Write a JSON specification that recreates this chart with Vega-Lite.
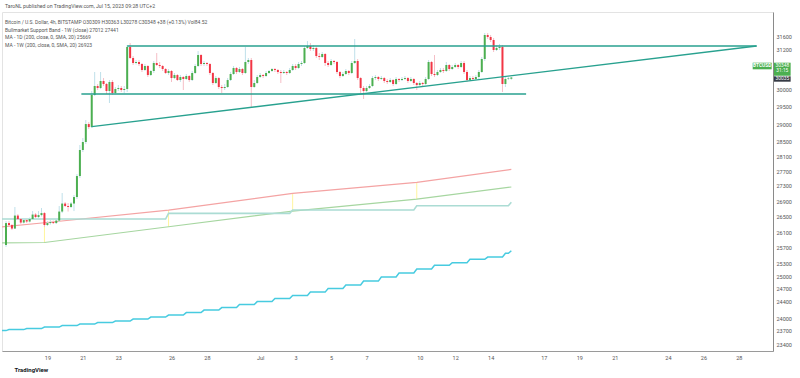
{
"$schema":"https://vega.github.io/schema/vega-lite/v6.json",
"width":771,"height":339,
"autosize":{"type":"none"},
"padding":{"left":2,"top":12,"right":27,"bottom":27},
"background":"#ffffff",
"title":{"text":"TaroNL published on TradingView.com, Jul 15, 2023 09:28 UTC+2","subtitle":["Bitcoin / U.S. Dollar, 4h, BITSTAMP  O30309 H30363 L30278 C30348 +38 (+0.13%)  Vol84.52","Bullmarket Support Band - 1W (close)  27012  27441","MA - 1D (200, close, 0, SMA, 20)  25669","MA - 1W (200, close, 0, SMA, 20)  26923"],"anchor":"start","frame":"group","orient":"top","offset":-36,"dx":3,"font":"Roboto","fontSize":5.2,"fontWeight":"normal","color":"#555555","subtitleFont":"Roboto","subtitleFontSize":5,"subtitleColor":"#555555","subtitleLineHeight":7.6,"subtitlePadding":11},
"config":{"view":{"stroke":"#e3e3e3"},"axis":{"grid":false,"ticks":false,"labelFont":"Roboto","labelFontSize":5.5,"labelColor":"#555555","titleFont":"Roboto"}},
"datasets":{
"candles":[
{"t":"2023-06-16T16:00Z","o":25772,"h":26381,"l":25722,"c":26330},
{"t":"2023-06-16T20:00Z","o":26330,"h":26381,"l":26253,"c":26279},
{"t":"2023-06-17T00:00Z","o":26279,"h":26305,"l":26151,"c":26189},
{"t":"2023-06-17T04:00Z","o":26189,"h":26745,"l":26177,"c":26523},
{"t":"2023-06-17T08:00Z","o":26523,"h":26562,"l":26407,"c":26433},
{"t":"2023-06-17T12:00Z","o":26433,"h":26459,"l":26305,"c":26343},
{"t":"2023-06-17T16:00Z","o":26343,"h":26459,"l":26317,"c":26407},
{"t":"2023-06-17T20:00Z","o":26407,"h":26433,"l":26330,"c":26369},
{"t":"2023-06-18T00:00Z","o":26369,"h":26472,"l":26343,"c":26433},
{"t":"2023-06-18T04:00Z","o":26433,"h":26640,"l":26407,"c":26549},
{"t":"2023-06-18T08:00Z","o":26549,"h":26588,"l":26459,"c":26485},
{"t":"2023-06-18T12:00Z","o":26485,"h":26640,"l":26459,"c":26536},
{"t":"2023-06-18T16:00Z","o":26536,"h":26719,"l":26498,"c":26588},
{"t":"2023-06-18T20:00Z","o":26588,"h":26614,"l":26228,"c":26279},
{"t":"2023-06-19T00:00Z","o":26279,"h":26381,"l":26253,"c":26330},
{"t":"2023-06-19T04:00Z","o":26330,"h":26407,"l":26292,"c":26356},
{"t":"2023-06-19T08:00Z","o":26356,"h":26394,"l":26305,"c":26330},
{"t":"2023-06-19T12:00Z","o":26330,"h":26459,"l":26305,"c":26394},
{"t":"2023-06-19T16:00Z","o":26394,"h":26771,"l":26356,"c":26627},
{"t":"2023-06-19T20:00Z","o":26627,"h":27113,"l":26588,"c":26836},
{"t":"2023-06-20T00:00Z","o":26836,"h":26876,"l":26745,"c":26771},
{"t":"2023-06-20T04:00Z","o":26771,"h":26850,"l":26627,"c":26745},
{"t":"2023-06-20T08:00Z","o":26745,"h":26876,"l":26719,"c":26836},
{"t":"2023-06-20T12:00Z","o":26836,"h":27060,"l":26640,"c":27007},
{"t":"2023-06-20T16:00Z","o":27007,"h":27620,"l":26954,"c":27566},
{"t":"2023-06-20T20:00Z","o":27566,"h":28413,"l":27513,"c":28275},
{"t":"2023-06-21T00:00Z","o":28275,"h":28608,"l":28220,"c":28496},
{"t":"2023-06-21T04:00Z","o":28496,"h":29114,"l":28441,"c":29000},
{"t":"2023-06-21T08:00Z","o":29000,"h":29057,"l":28859,"c":28915},
{"t":"2023-06-21T12:00Z","o":28915,"h":29950,"l":28887,"c":29834},
{"t":"2023-06-21T16:00Z","o":29834,"h":30510,"l":29804,"c":30096},
{"t":"2023-06-21T20:00Z","o":30096,"h":30155,"l":29979,"c":30038},
{"t":"2023-06-22T00:00Z","o":30038,"h":30510,"l":30008,"c":30243},
{"t":"2023-06-22T04:00Z","o":30243,"h":30331,"l":30096,"c":30155},
{"t":"2023-06-22T08:00Z","o":30155,"h":30184,"l":29863,"c":29950},
{"t":"2023-06-22T12:00Z","o":29950,"h":30272,"l":29601,"c":30214},
{"t":"2023-06-22T16:00Z","o":30214,"h":30272,"l":29834,"c":29892},
{"t":"2023-06-22T20:00Z","o":29892,"h":30067,"l":29863,"c":30008},
{"t":"2023-06-23T00:00Z","o":30008,"h":30125,"l":29950,"c":30038},
{"t":"2023-06-23T04:00Z","o":30038,"h":30096,"l":29921,"c":29979},
{"t":"2023-06-23T08:00Z","o":29979,"h":30096,"l":29892,"c":30008},
{"t":"2023-06-23T12:00Z","o":30008,"h":31324,"l":29921,"c":31263},
{"t":"2023-06-23T16:00Z","o":31263,"h":31385,"l":30899,"c":30929},
{"t":"2023-06-23T20:00Z","o":30929,"h":30989,"l":30719,"c":30779},
{"t":"2023-06-24T00:00Z","o":30779,"h":30869,"l":30734,"c":30809},
{"t":"2023-06-24T04:00Z","o":30809,"h":30869,"l":30689,"c":30749},
{"t":"2023-06-24T08:00Z","o":30749,"h":30779,"l":30510,"c":30569},
{"t":"2023-06-24T12:00Z","o":30569,"h":30749,"l":30540,"c":30689},
{"t":"2023-06-24T16:00Z","o":30689,"h":30719,"l":30361,"c":30420},
{"t":"2023-06-24T20:00Z","o":30420,"h":30569,"l":30391,"c":30540},
{"t":"2023-06-25T00:00Z","o":30540,"h":30839,"l":30480,"c":30779},
{"t":"2023-06-25T04:00Z","o":30779,"h":31080,"l":30689,"c":30719},
{"t":"2023-06-25T08:00Z","o":30719,"h":30809,"l":30629,"c":30689},
{"t":"2023-06-25T12:00Z","o":30689,"h":30719,"l":30540,"c":30599},
{"t":"2023-06-25T16:00Z","o":30599,"h":30629,"l":30450,"c":30480},
{"t":"2023-06-25T20:00Z","o":30480,"h":30599,"l":30420,"c":30540},
{"t":"2023-06-26T00:00Z","o":30540,"h":30569,"l":30214,"c":30331},
{"t":"2023-06-26T04:00Z","o":30331,"h":30480,"l":30302,"c":30420},
{"t":"2023-06-26T08:00Z","o":30420,"h":30450,"l":30243,"c":30272},
{"t":"2023-06-26T12:00Z","o":30272,"h":30420,"l":30214,"c":30361},
{"t":"2023-06-26T16:00Z","o":30361,"h":30391,"l":29979,"c":30302},
{"t":"2023-06-26T20:00Z","o":30302,"h":30450,"l":30272,"c":30391},
{"t":"2023-06-27T00:00Z","o":30391,"h":30420,"l":30214,"c":30272},
{"t":"2023-06-27T04:00Z","o":30272,"h":30540,"l":30243,"c":30480},
{"t":"2023-06-27T08:00Z","o":30480,"h":30749,"l":30450,"c":30689},
{"t":"2023-06-27T12:00Z","o":30689,"h":31141,"l":30659,"c":31020},
{"t":"2023-06-27T16:00Z","o":31020,"h":31050,"l":30689,"c":30749},
{"t":"2023-06-27T20:00Z","o":30749,"h":30839,"l":30689,"c":30779},
{"t":"2023-06-28T00:00Z","o":30779,"h":30809,"l":30689,"c":30749},
{"t":"2023-06-28T04:00Z","o":30749,"h":30779,"l":30420,"c":30480},
{"t":"2023-06-28T08:00Z","o":30480,"h":30510,"l":30125,"c":30184},
{"t":"2023-06-28T12:00Z","o":30184,"h":30391,"l":30155,"c":30331},
{"t":"2023-06-28T16:00Z","o":30331,"h":30361,"l":30008,"c":30067},
{"t":"2023-06-28T20:00Z","o":30067,"h":30125,"l":29892,"c":30038},
{"t":"2023-06-29T00:00Z","o":30038,"h":30155,"l":29979,"c":30067},
{"t":"2023-06-29T04:00Z","o":30067,"h":30331,"l":30038,"c":30272},
{"t":"2023-06-29T08:00Z","o":30272,"h":30510,"l":30243,"c":30450},
{"t":"2023-06-29T12:00Z","o":30450,"h":30689,"l":30420,"c":30629},
{"t":"2023-06-29T16:00Z","o":30629,"h":30659,"l":30450,"c":30510},
{"t":"2023-06-29T20:00Z","o":30510,"h":30659,"l":30480,"c":30599},
{"t":"2023-06-30T00:00Z","o":30599,"h":30629,"l":30420,"c":30480},
{"t":"2023-06-30T04:00Z","o":30480,"h":31263,"l":30450,"c":30809},
{"t":"2023-06-30T08:00Z","o":30809,"h":30929,"l":30749,"c":30869},
{"t":"2023-06-30T12:00Z","o":30869,"h":30929,"l":29486,"c":30067},
{"t":"2023-06-30T16:00Z","o":30067,"h":30272,"l":30038,"c":30184},
{"t":"2023-06-30T20:00Z","o":30184,"h":30420,"l":30155,"c":30361},
{"t":"2023-07-01T00:00Z","o":30361,"h":30480,"l":30331,"c":30420},
{"t":"2023-07-01T04:00Z","o":30420,"h":30450,"l":30331,"c":30391},
{"t":"2023-07-01T08:00Z","o":30391,"h":30540,"l":30361,"c":30480},
{"t":"2023-07-01T12:00Z","o":30480,"h":30569,"l":30450,"c":30540},
{"t":"2023-07-01T16:00Z","o":30540,"h":30629,"l":30510,"c":30599},
{"t":"2023-07-01T20:00Z","o":30599,"h":30629,"l":30510,"c":30569},
{"t":"2023-07-02T00:00Z","o":30569,"h":30599,"l":30450,"c":30510},
{"t":"2023-07-02T04:00Z","o":30510,"h":30569,"l":30184,"c":30480},
{"t":"2023-07-02T08:00Z","o":30480,"h":30569,"l":30450,"c":30510},
{"t":"2023-07-02T12:00Z","o":30510,"h":30540,"l":30420,"c":30480},
{"t":"2023-07-02T16:00Z","o":30480,"h":30629,"l":30450,"c":30569},
{"t":"2023-07-02T20:00Z","o":30569,"h":30749,"l":30540,"c":30689},
{"t":"2023-07-03T00:00Z","o":30689,"h":30749,"l":30569,"c":30629},
{"t":"2023-07-03T04:00Z","o":30629,"h":30809,"l":30599,"c":30749},
{"t":"2023-07-03T08:00Z","o":30749,"h":30839,"l":30689,"c":30779},
{"t":"2023-07-03T12:00Z","o":30779,"h":31293,"l":30749,"c":31232},
{"t":"2023-07-03T16:00Z","o":31232,"h":31446,"l":31202,"c":31293},
{"t":"2023-07-03T20:00Z","o":31293,"h":31385,"l":31141,"c":31202},
{"t":"2023-07-04T00:00Z","o":31202,"h":31324,"l":31141,"c":31232},
{"t":"2023-07-04T04:00Z","o":31232,"h":31263,"l":30929,"c":30989},
{"t":"2023-07-04T08:00Z","o":30989,"h":31080,"l":30869,"c":30959},
{"t":"2023-07-04T12:00Z","o":30959,"h":31111,"l":30929,"c":31050},
{"t":"2023-07-04T16:00Z","o":31050,"h":31080,"l":30689,"c":30779},
{"t":"2023-07-04T20:00Z","o":30779,"h":30839,"l":30659,"c":30719},
{"t":"2023-07-05T00:00Z","o":30719,"h":30899,"l":30689,"c":30839},
{"t":"2023-07-05T04:00Z","o":30839,"h":30869,"l":30749,"c":30809},
{"t":"2023-07-05T08:00Z","o":30809,"h":30839,"l":30450,"c":30510},
{"t":"2023-07-05T12:00Z","o":30510,"h":30540,"l":30331,"c":30391},
{"t":"2023-07-05T16:00Z","o":30391,"h":30510,"l":30361,"c":30450},
{"t":"2023-07-05T20:00Z","o":30450,"h":30599,"l":30420,"c":30540},
{"t":"2023-07-06T00:00Z","o":30540,"h":30569,"l":30420,"c":30480},
{"t":"2023-07-06T04:00Z","o":30480,"h":30839,"l":30450,"c":30779},
{"t":"2023-07-06T08:00Z","o":30779,"h":31508,"l":30749,"c":30839},
{"t":"2023-07-06T12:00Z","o":30839,"h":30899,"l":30272,"c":30331},
{"t":"2023-07-06T16:00Z","o":30331,"h":30361,"l":29892,"c":30038},
{"t":"2023-07-06T20:00Z","o":30038,"h":30096,"l":29717,"c":29950},
{"t":"2023-07-07T00:00Z","o":29950,"h":30096,"l":29921,"c":30038},
{"t":"2023-07-07T04:00Z","o":30038,"h":30155,"l":30008,"c":30096},
{"t":"2023-07-07T08:00Z","o":30096,"h":30391,"l":30067,"c":30331},
{"t":"2023-07-07T12:00Z","o":30331,"h":30420,"l":30272,"c":30361},
{"t":"2023-07-07T16:00Z","o":30361,"h":30391,"l":30243,"c":30302},
{"t":"2023-07-07T20:00Z","o":30302,"h":30391,"l":30272,"c":30331},
{"t":"2023-07-08T00:00Z","o":30331,"h":30361,"l":30184,"c":30243},
{"t":"2023-07-08T04:00Z","o":30243,"h":30302,"l":30155,"c":30214},
{"t":"2023-07-08T08:00Z","o":30214,"h":30331,"l":30184,"c":30272},
{"t":"2023-07-08T12:00Z","o":30272,"h":30302,"l":30096,"c":30155},
{"t":"2023-07-08T16:00Z","o":30155,"h":30361,"l":30125,"c":30302},
{"t":"2023-07-08T20:00Z","o":30302,"h":30331,"l":30214,"c":30272},
{"t":"2023-07-09T00:00Z","o":30272,"h":30361,"l":30243,"c":30302},
{"t":"2023-07-09T04:00Z","o":30302,"h":30391,"l":30272,"c":30331},
{"t":"2023-07-09T08:00Z","o":30331,"h":30361,"l":30184,"c":30243},
{"t":"2023-07-09T12:00Z","o":30243,"h":30361,"l":30214,"c":30302},
{"t":"2023-07-09T16:00Z","o":30302,"h":30331,"l":30125,"c":30184},
{"t":"2023-07-09T20:00Z","o":30184,"h":30214,"l":29979,"c":30125},
{"t":"2023-07-10T00:00Z","o":30125,"h":30243,"l":30096,"c":30184},
{"t":"2023-07-10T04:00Z","o":30184,"h":30214,"l":30067,"c":30155},
{"t":"2023-07-10T08:00Z","o":30155,"h":30361,"l":30125,"c":30302},
{"t":"2023-07-10T12:00Z","o":30302,"h":30869,"l":30272,"c":30809},
{"t":"2023-07-10T16:00Z","o":30809,"h":30839,"l":30391,"c":30450},
{"t":"2023-07-10T20:00Z","o":30450,"h":31020,"l":30361,"c":30420},
{"t":"2023-07-11T00:00Z","o":30420,"h":30569,"l":30391,"c":30510},
{"t":"2023-07-11T04:00Z","o":30510,"h":30629,"l":30480,"c":30569},
{"t":"2023-07-11T08:00Z","o":30569,"h":30629,"l":30480,"c":30540},
{"t":"2023-07-11T12:00Z","o":30540,"h":30809,"l":30510,"c":30719},
{"t":"2023-07-11T16:00Z","o":30719,"h":30749,"l":30540,"c":30599},
{"t":"2023-07-11T20:00Z","o":30599,"h":30719,"l":30569,"c":30659},
{"t":"2023-07-12T00:00Z","o":30659,"h":30779,"l":30629,"c":30719},
{"t":"2023-07-12T04:00Z","o":30719,"h":30749,"l":30599,"c":30659},
{"t":"2023-07-12T08:00Z","o":30659,"h":30839,"l":30629,"c":30779},
{"t":"2023-07-12T12:00Z","o":30779,"h":30839,"l":30450,"c":30510},
{"t":"2023-07-12T16:00Z","o":30510,"h":30569,"l":30214,"c":30272},
{"t":"2023-07-12T20:00Z","o":30272,"h":30391,"l":30243,"c":30331},
{"t":"2023-07-13T00:00Z","o":30331,"h":30391,"l":30243,"c":30302},
{"t":"2023-07-13T04:00Z","o":30302,"h":30420,"l":30272,"c":30361},
{"t":"2023-07-13T08:00Z","o":30361,"h":30569,"l":30302,"c":30510},
{"t":"2023-07-13T12:00Z","o":30510,"h":30959,"l":30480,"c":30899},
{"t":"2023-07-13T16:00Z","o":30899,"h":31693,"l":30839,"c":31631},
{"t":"2023-07-13T20:00Z","o":31631,"h":31693,"l":31508,"c":31569},
{"t":"2023-07-14T00:00Z","o":31569,"h":31631,"l":31416,"c":31477},
{"t":"2023-07-14T04:00Z","o":31477,"h":31538,"l":31111,"c":31171},
{"t":"2023-07-14T08:00Z","o":31171,"h":31324,"l":31141,"c":31232},
{"t":"2023-07-14T12:00Z","o":31232,"h":31354,"l":31171,"c":31263},
{"t":"2023-07-14T16:00Z","o":31263,"h":31324,"l":29921,"c":30155},
{"t":"2023-07-14T20:00Z","o":30155,"h":30361,"l":30067,"c":30302},
{"t":"2023-07-15T00:00Z","o":30302,"h":30361,"l":30272,"c":30320},
{"t":"2023-07-15T04:00Z","o":30309,"h":30363,"l":30278,"c":30348}
],
"red":[
{"t":"2023-06-16T08:00Z","v":26230},{"t":"2023-06-18T20:00Z","v":26338},{"t":"2023-06-25T20:00Z","v":26666},{"t":"2023-07-02T20:00Z","v":27102},{"t":"2023-07-09T20:00Z","v":27397},{"t":"2023-07-15T04:00Z","v":27746}
],
"green":[
{"t":"2023-06-16T08:00Z","v":25827},{"t":"2023-06-18T20:00Z","v":25835},{"t":"2023-06-25T20:00Z","v":26236},{"t":"2023-07-02T20:00Z","v":26640},{"t":"2023-07-09T20:00Z","v":26954},{"t":"2023-07-15T04:00Z","v":27272}
],
"yellow":[
{"t":"2023-06-18T20:00Z","top":26338,"bottom":25835},{"t":"2023-06-25T20:00Z","top":26666,"bottom":26236},{"t":"2023-07-02T20:00Z","top":27102,"bottom":26640},{"t":"2023-07-09T20:00Z","top":27397,"bottom":26954}
],
"ma1w":[
{"t":"2023-06-16T08:00Z","v":26433},{"t":"2023-06-25T16:00Z","v":26433},{"t":"2023-06-25T20:00Z","v":26580},{"t":"2023-07-02T16:00Z","v":26580},{"t":"2023-07-02T20:00Z","v":26666},{"t":"2023-07-09T16:00Z","v":26666},{"t":"2023-07-09T20:00Z","v":26779},{"t":"2023-07-15T00:00Z","v":26779},{"t":"2023-07-15T04:00Z","v":26869}
],
"ma1d":[
{"t":"2023-06-16T08:00Z","v":23708},{"t":"2023-06-16T16:00Z","v":23708},{"t":"2023-06-16T20:00Z","v":23731},
{"t":"2023-06-17T16:00Z","v":23731},{"t":"2023-06-17T20:00Z","v":23755},
{"t":"2023-06-18T16:00Z","v":23755},{"t":"2023-06-18T20:00Z","v":23790},
{"t":"2023-06-19T16:00Z","v":23790},{"t":"2023-06-19T20:00Z","v":23824},
{"t":"2023-06-20T16:00Z","v":23824},{"t":"2023-06-20T20:00Z","v":23859},
{"t":"2023-06-21T16:00Z","v":23859},{"t":"2023-06-21T20:00Z","v":23894},
{"t":"2023-06-22T16:00Z","v":23894},{"t":"2023-06-22T20:00Z","v":23929},
{"t":"2023-06-23T16:00Z","v":23929},{"t":"2023-06-23T20:00Z","v":23975},
{"t":"2023-06-24T16:00Z","v":23975},{"t":"2023-06-24T20:00Z","v":24023},
{"t":"2023-06-25T16:00Z","v":24023},{"t":"2023-06-25T20:00Z","v":24070},
{"t":"2023-06-26T16:00Z","v":24070},{"t":"2023-06-26T20:00Z","v":24128},
{"t":"2023-06-27T16:00Z","v":24128},{"t":"2023-06-27T20:00Z","v":24187},
{"t":"2023-06-28T16:00Z","v":24187},{"t":"2023-06-28T20:00Z","v":24246},
{"t":"2023-06-29T16:00Z","v":24246},{"t":"2023-06-29T20:00Z","v":24318},
{"t":"2023-06-30T16:00Z","v":24318},{"t":"2023-06-30T20:00Z","v":24388},
{"t":"2023-07-01T16:00Z","v":24388},{"t":"2023-07-01T20:00Z","v":24460},
{"t":"2023-07-02T16:00Z","v":24460},{"t":"2023-07-02T20:00Z","v":24532},
{"t":"2023-07-03T16:00Z","v":24532},{"t":"2023-07-03T20:00Z","v":24615},
{"t":"2023-07-04T16:00Z","v":24615},{"t":"2023-07-04T20:00Z","v":24700},
{"t":"2023-07-05T16:00Z","v":24700},{"t":"2023-07-05T20:00Z","v":24785},
{"t":"2023-07-06T16:00Z","v":24785},{"t":"2023-07-06T20:00Z","v":24881},
{"t":"2023-07-07T16:00Z","v":24881},{"t":"2023-07-07T20:00Z","v":24979},
{"t":"2023-07-08T16:00Z","v":24979},{"t":"2023-07-08T20:00Z","v":25077},
{"t":"2023-07-09T16:00Z","v":25077},{"t":"2023-07-09T20:00Z","v":25175},
{"t":"2023-07-10T16:00Z","v":25175},{"t":"2023-07-10T20:00Z","v":25266},
{"t":"2023-07-11T16:00Z","v":25266},{"t":"2023-07-11T20:00Z","v":25331},
{"t":"2023-07-12T16:00Z","v":25331},{"t":"2023-07-12T20:00Z","v":25414},
{"t":"2023-07-13T16:00Z","v":25414},{"t":"2023-07-13T20:00Z","v":25471},
{"t":"2023-07-14T16:00Z","v":25471},{"t":"2023-07-14T20:00Z","v":25563},
{"t":"2023-07-15T00:00Z","v":25563},{"t":"2023-07-15T04:00Z","v":25628}
],
"trend":[
{"id":"top","t":"2023-06-23T12:00Z","v":31293},{"id":"top","t":"2023-07-29T00:00Z","v":31293},
{"id":"bottom","t":"2023-06-20T22:00Z","v":29863},{"id":"bottom","t":"2023-07-16T00:00Z","v":29863},
{"id":"rising","t":"2023-06-21T12:00Z","v":28927},{"id":"rising","t":"2023-07-29T00:00Z","v":31293}
],
"tagSym":[{"t":"2023-07-28T18:43Z","t2":"2023-07-29T20:24Z","v":30788,"v2":30590,"tc":"2023-07-29T07:33Z","vc":30689,"label":"BTCUSD"}],
"tagPrice":[{"t":"2023-07-29T23:33Z","t2":"2023-07-30T22:05Z","v":30788,"v2":30399}],
"tagPriceText":[{"t":"2023-07-30T10:50Z","v":30704,"label":"30348"},{"t":"2023-07-30T10:50Z","v":30525,"label":"31:15"}],
"tagDark":[{"t":"2023-07-29T23:33Z","t2":"2023-07-30T22:05Z","v":30382,"v2":30223,"tc":"2023-07-30T10:50Z","vc":30302,"label":"30035"}]
},
"layer":[
{"mark":{"type":"rule","color":"#dadada","strokeWidth":1},
 "encoding":{"y":{"datum":25700,"type":"quantitative","scale":{"type":"log","domain":[23241,32349],"nice":false}}}},
{"mark":{"type":"rule","color":"#c3e6c6","strokeWidth":1},
 "encoding":{"y":{"datum":30348,"type":"quantitative","scale":{"type":"log","domain":[23241,32349],"nice":false}}}},
{"data":{"name":"yellow"},"mark":{"type":"rule","color":"#fff59d","strokeWidth":1},
 "encoding":{"x":{"field":"t","type":"temporal","scale":{"type":"utc","domain":[{"year":2023,"month":6,"date":16,"hours":10,"minutes":33,"utc":true},{"year":2023,"month":7,"date":29,"hours":22,"minutes":12,"utc":true}],"nice":false,"padding":0}},
  "y":{"field":"top","type":"quantitative","scale":{"type":"log","domain":[23241,32349],"nice":false}},"y2":{"field":"bottom"}}},
{"data":{"name":"red"},"mark":{"type":"line","color":"#f4a3a3","strokeWidth":1.2,"clip":true},
 "encoding":{"x":{"field":"t","type":"temporal"},"y":{"field":"v","type":"quantitative"}}},
{"data":{"name":"green"},"mark":{"type":"line","color":"#a6d6a0","strokeWidth":1.2,"clip":true},
 "encoding":{"x":{"field":"t","type":"temporal"},"y":{"field":"v","type":"quantitative"}}},
{"data":{"name":"ma1w"},"mark":{"type":"line","color":"#abdcd4","strokeWidth":1.6,"clip":true},
 "encoding":{"x":{"field":"t","type":"temporal"},"y":{"field":"v","type":"quantitative"}}},
{"data":{"name":"ma1d"},"mark":{"type":"line","color":"#47cbe0","strokeWidth":1.5,"clip":true},
 "encoding":{"x":{"field":"t","type":"temporal"},"y":{"field":"v","type":"quantitative"}}},
{"data":{"name":"candles"},"mark":{"type":"rule","strokeWidth":1},
 "encoding":{"x":{"field":"t","type":"temporal"},"y":{"field":"l","type":"quantitative"},"y2":{"field":"h"},
  "color":{"condition":{"test":"datum.c >= datum.o","value":"#bfe0ea"},"value":"#f5bec6"}}},
{"data":{"name":"candles"},"mark":{"type":"bar","size":2},
 "encoding":{
  "x":{"field":"t","type":"temporal","scale":{"padding":0},"axis":{"orient":"bottom","values":[{"year":2023,"month":6,"date":19,"utc":true},{"year":2023,"month":6,"date":21,"utc":true},{"year":2023,"month":6,"date":23,"utc":true},{"year":2023,"month":6,"date":26,"utc":true},{"year":2023,"month":6,"date":28,"utc":true},{"year":2023,"month":7,"date":1,"utc":true},{"year":2023,"month":7,"date":3,"utc":true},{"year":2023,"month":7,"date":5,"utc":true},{"year":2023,"month":7,"date":7,"utc":true},{"year":2023,"month":7,"date":10,"utc":true},{"year":2023,"month":7,"date":12,"utc":true},{"year":2023,"month":7,"date":14,"utc":true},{"year":2023,"month":7,"date":17,"utc":true},{"year":2023,"month":7,"date":19,"utc":true},{"year":2023,"month":7,"date":21,"utc":true},{"year":2023,"month":7,"date":24,"utc":true},{"year":2023,"month":7,"date":26,"utc":true},{"year":2023,"month":7,"date":28,"utc":true}],
   "labelExpr":"utcFormat(datum.value,'%d')=='01' ? utcFormat(datum.value,'%b') : utcFormat(datum.value,'%-d')",
   "labelOverlap":false,"labelFlush":false,"labelPadding":4,"domainColor":"#9a9a9a","domainWidth":1,
   "title":"TradingView","titleAnchor":"start","titleAlign":"left","titleX":12,"titlePadding":6,"titleFontSize":6,"titleFontWeight":"bold","titleColor":"#131722"}},
  "y":{"field":"o","type":"quantitative","axis":{"orient":"right","values":[31600,31200,30000,29500,29000,28500,28100,27700,27300,26900,26500,26100,25700,25300,25000,24700,24400,24000,23700,23400],"format":"d","title":null,"labelPadding":3,"labelOverlap":false,"labelFlush":false,"domainColor":"#8a8a8a","domainWidth":1}},
  "y2":{"field":"c"},
  "color":{"condition":{"test":"datum.c >= datum.o","value":"#4caf50"},"value":"#f23645"}}},
{"data":{"name":"trend"},"mark":{"type":"line","color":"#28a18f","strokeWidth":1.4},
 "encoding":{"x":{"field":"t","type":"temporal"},"y":{"field":"v","type":"quantitative"},"detail":{"field":"id"}}},
{"data":{"name":"tagSym"},"mark":{"type":"rect","color":"#4caf50"},
 "encoding":{"x":{"field":"t","type":"temporal"},"x2":{"field":"t2"},"y":{"field":"v","type":"quantitative"},"y2":{"field":"v2"}}},
{"data":{"name":"tagSym"},"mark":{"type":"text","color":"#ffffff","fontSize":4.8,"font":"Roboto","fontWeight":"bold"},
 "encoding":{"x":{"field":"tc","type":"temporal"},"y":{"field":"vc","type":"quantitative"},"text":{"field":"label"}}},
{"data":{"name":"tagPrice"},"mark":{"type":"rect","color":"#4caf50"},
 "encoding":{"x":{"field":"t","type":"temporal"},"x2":{"field":"t2"},"y":{"field":"v","type":"quantitative"},"y2":{"field":"v2"}}},
{"data":{"name":"tagPriceText"},"mark":{"type":"text","color":"#ffffff","fontSize":4.8,"font":"Roboto"},
 "encoding":{"x":{"field":"t","type":"temporal"},"y":{"field":"v","type":"quantitative"},"text":{"field":"label"}}},
{"data":{"name":"tagDark"},"mark":{"type":"rect","color":"#363a45"},
 "encoding":{"x":{"field":"t","type":"temporal"},"x2":{"field":"t2"},"y":{"field":"v","type":"quantitative"},"y2":{"field":"v2"}}},
{"data":{"name":"tagDark"},"mark":{"type":"text","color":"#ffffff","fontSize":4.8,"font":"Roboto"},
 "encoding":{"x":{"field":"tc","type":"temporal"},"y":{"field":"vc","type":"quantitative"},"text":{"field":"label"}}}
]
}
